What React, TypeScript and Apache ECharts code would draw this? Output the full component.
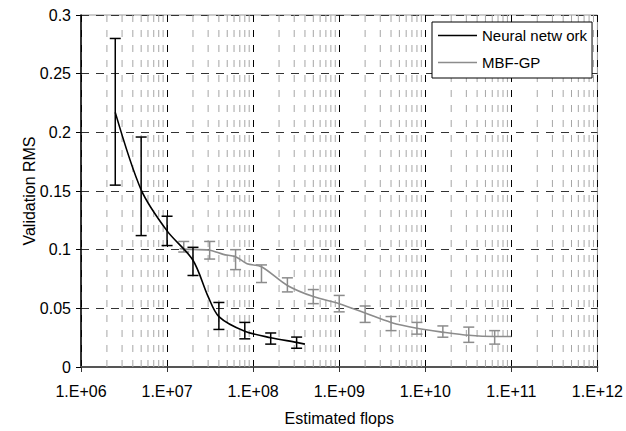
import React, { useEffect, useRef } from "react";
import * as echarts from "echarts";

// Tick labels
const xTickLabels = ["1.E+06", "1.E+07", "1.E+08", "1.E+09", "1.E+10", "1.E+11", "1.E+12"];
const xDecades = [1e6, 1e7, 1e8, 1e9, 1e10, 1e11];
const minorMultipliers = [2, 3, 4, 5, 6, 7, 8, 9];

// Neural network: line
const nnLineX = [2.5e6, 5e6, 1e7, 2e7, 3e7, 4e7, 8e7, 1.6e8, 3.2e8, 4e8];
const nnLineY = [0.217, 0.151, 0.116, 0.091, 0.06, 0.043, 0.0305, 0.025, 0.021, 0.0195];
// Neural network: error bars
const nnBarX = [2.5e6, 5e6, 1e7, 2e7, 4e7, 8e7, 1.6e8, 3.2e8];
const nnBarLow = [0.155, 0.112, 0.1035, 0.078, 0.032, 0.024, 0.0195, 0.016];
const nnBarHigh = [0.28, 0.196, 0.1285, 0.102, 0.055, 0.038, 0.029, 0.0255];

// MBF-GP: line
const gpLineX = [1.4e7, 1.5625e7, 3.125e7, 4.5e7, 6.25e7, 8.5e7, 1.25e8, 2.5e8, 5e8, 1e9, 2e9, 4e9, 8e9, 1.6e10, 3.2e10, 6.4e10, 1e11];
const gpLineY = [0.101, 0.1005, 0.0995, 0.096, 0.094, 0.088, 0.0855, 0.0695, 0.06, 0.054, 0.046, 0.038, 0.033, 0.0297, 0.027, 0.026, 0.026];
// MBF-GP: error bars
const gpBarX = [1.5625e7, 3.125e7, 6.25e7, 1.25e8, 2.5e8, 5e8, 1e9, 2e9, 4e9, 8e9, 1.6e10, 3.2e10, 6.4e10];
const gpBarLow = [0.098, 0.092, 0.083, 0.072, 0.064, 0.054, 0.047, 0.038, 0.031, 0.028, 0.0254, 0.021, 0.0195];
const gpBarHigh = [0.107, 0.107, 0.1, 0.087, 0.076, 0.066, 0.061, 0.052, 0.043, 0.038, 0.035, 0.034, 0.031];

const FONT = "'Liberation Sans', Arial, sans-serif";
const FS = 16;

function errorBarSeries(name: string, xs: number[], lo: number[], hi: number[], color: string) {
  return {
    type: "custom",
    name,
    z: 4,
    data: xs.map((x, i) => [x, lo[i], hi[i]]),
    encode: { x: 0, y: [1, 2] },
    renderItem: (_params: any, api: any) => {
      const x = api.value(0);
      const top = api.coord([x, api.value(2)]);
      const bot = api.coord([x, api.value(1)]);
      const hw = 5.5;
      const style = { stroke: color, lineWidth: 1.5, fill: null };
      return {
        type: "group",
        children: [
          { type: "line", shape: { x1: top[0], y1: top[1], x2: bot[0], y2: bot[1] }, style },
          { type: "line", shape: { x1: top[0] - hw, y1: top[1], x2: top[0] + hw, y2: top[1] }, style },
          { type: "line", shape: { x1: bot[0] - hw, y1: bot[1], x2: bot[0] + hw, y2: bot[1] }, style },
        ],
      };
    },
  };
}

export default function App() {
  const ref = useRef<HTMLDivElement>(null);
  useEffect(() => {
    if (!ref.current) return;
    document.body.style.margin = "0";
    document.body.style.overflow = "hidden";
    const chart = echarts.init(ref.current, undefined, { renderer: "svg" });
    const minorX: number[][] = [];
    xDecades.forEach((d) => minorMultipliers.forEach((m) => minorX.push([d * m, 0])));

    chart.setOption({
      animation: false,
      backgroundColor: "#fff",
      textStyle: { fontFamily: FONT },
      grid: {
        left: 81,
        right: 26,
        top: 15,
        bottom: 62,
        show: true,
        borderColor: "#999",
        borderWidth: 1,
        backgroundColor: "#fff",
      },
      legend: {
        orient: "vertical",
        left: 432,
        top: 22,
        padding: [5, 5, 7, 6],
        itemGap: 10,
        itemWidth: 39,
        itemHeight: 1.6,
        borderColor: "#000",
        borderWidth: 1,
        backgroundColor: "#fff",
        textStyle: { fontSize: 15, color: "#000", fontFamily: FONT, lineHeight: 17 },
        data: [
          { name: "Neural netw ork", icon: "rect", itemStyle: { color: "#000" } },
          { name: "MBF-GP", icon: "rect", itemStyle: { color: "#8c8c8c" } },
        ],
      },
      xAxis: {
        type: "log",
        logBase: 10,
        min: 1e6,
        max: 1e12,
        splitNumber: 6,
        name: "Estimated flops",
        nameLocation: "middle",
        nameGap: 43,
        nameMoveOverlap: false,
        nameTextStyle: { fontSize: FS, lineHeight: 16, color: "#000", fontFamily: FONT },
        axisLine: { show: true, lineStyle: { color: "#555", width: 2 } },
        axisTick: { show: true, length: 5, lineStyle: { color: "#333" } },
        axisLabel: {
          margin: 16,
          fontSize: FS,
          lineHeight: 16,
          color: "#000",
          fontFamily: FONT,
          formatter: (v: number) => xTickLabels[Math.round(Math.log10(v)) - 6],
        },
        splitLine: { show: true, lineStyle: { color: "#000", type: [7, 8], width: 1 } },
        minorTick: { show: false },
        minorSplitLine: { show: false },
      },
      yAxis: {
        type: "value",
        min: 0,
        max: 0.3,
        interval: 0.05,
        name: "Validation RMS",
        nameLocation: "middle",
        nameGap: 44,
        nameMoveOverlap: false,
        nameTextStyle: { fontSize: FS, color: "#000", fontFamily: FONT },
        axisLine: { show: true, lineStyle: { color: "#000", width: 1.5 } },
        axisTick: { show: true, length: 5, lineStyle: { color: "#000" } },
        axisLabel: { margin: 10, fontSize: FS, color: "#000", fontFamily: FONT },
        splitLine: { show: true, lineStyle: { color: "#333", type: [8, 7], width: 1 } },
      },
      series: [
        {
          type: "custom",
          name: "minorGrid",
          z: 1,
          silent: true,
          data: minorX,
          encode: { x: 0, y: 1 },
          renderItem: (_params: any, api: any) => {
            const x = api.value(0);
            const p1 = api.coord([x, 0.3]);
            const p2 = api.coord([x, 0]);
            return {
              type: "line",
              shape: { x1: p1[0], y1: p1[1], x2: p2[0], y2: p2[1] },
              style: { stroke: "#a6a6a6", lineWidth: 1, lineDash: [7, 8], fill: null },
            };
          },
        },
        {
          type: "line",
          name: "MBF-GP",
          z: 3,
          data: gpLineX.map((x, i) => [x, gpLineY[i]]),
          showSymbol: false,
          symbol: "none",
          smooth: 0.3,
          lineStyle: { color: "#8c8c8c", width: 1.6 },
          itemStyle: { color: "#8c8c8c" },
        },
        {
          type: "line",
          name: "Neural netw ork",
          z: 5,
          data: nnLineX.map((x, i) => [x, nnLineY[i]]),
          showSymbol: false,
          symbol: "none",
          smooth: 0.3,
          lineStyle: { color: "#000", width: 1.6 },
          itemStyle: { color: "#000" },
        },
        errorBarSeries("gpErr", gpBarX, gpBarLow, gpBarHigh, "#8c8c8c"),
        errorBarSeries("nnErr", nnBarX, nnBarLow, nnBarHigh, "#000"),
      ],
    });
    return () => chart.dispose();
  }, []);
  return (
    <div style={{ position: "absolute", left: 0, top: 0, width: 626, height: 431, overflow: "hidden" }}>
      <div ref={ref} style={{ width: 626, height: 431 }} />
    </div>
  );
}
